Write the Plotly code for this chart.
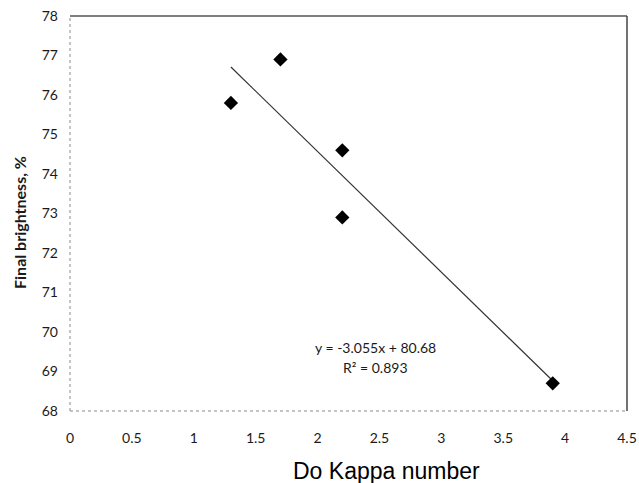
import plotly.graph_objects as go

# Measured data: D0 kappa number vs. final brightness
kappa = [1.3, 1.7, 2.2, 2.2, 3.9]
brightness = [75.8, 76.9, 74.6, 72.9, 68.7]

# Linear fit reported for the data
slope = -3.055
intercept = 80.68
r_squared = 0.893
fit_x = [min(kappa), max(kappa)]
fit_y = [slope * x + intercept for x in fit_x]

x_ticks = [0, 0.5, 1, 1.5, 2, 2.5, 3, 3.5, 4, 4.5]
y_ticks = [68, 69, 70, 71, 72, 73, 74, 75, 76, 77, 78]

W, H = 639, 483
L, R, T, B = 70, 12, 16, 72
px_left, px_right, px_top, px_bottom = L, W - R, T, H - B

fig = go.Figure()
fig.add_trace(go.Scatter(
    x=fit_x, y=fit_y, mode="lines",
    line=dict(color="#333333", width=1.2), hoverinfo="skip",
))
fig.add_trace(go.Scatter(
    x=kappa, y=brightness, mode="markers",
    marker=dict(symbol="diamond", size=11, color="black"),
))

tick_font = dict(family="Lato, sans-serif", size=14, color="#1a1a1a")

fig.update_layout(
    width=W, height=H,
    margin=dict(l=L, r=R, t=T, b=B, autoexpand=False),
    paper_bgcolor="white", plot_bgcolor="white",
    showlegend=False,
    xaxis=dict(
        range=[0, 4.5], tickvals=x_ticks,
        ticktext=[f"{v:g}" for v in x_ticks],
        showgrid=False, zeroline=False, showline=False, automargin=False,
        ticks="", ticklabelstandoff=17, tickfont=tick_font,
    ),
    yaxis=dict(
        range=[68, 78], tickvals=y_ticks,
        showgrid=False, zeroline=False, showline=False, automargin=False,
        ticks="", ticklabelstandoff=11, tickfont=tick_font,
    ),
)

# Plot frame: light dotted left/bottom edges, darker top/right edges
fig.add_shape(type="line", xref="paper", yref="paper", x0=0, y0=0, x1=0, y1=1,
              line=dict(color="#8a8a8a", width=1, dash="dot"))
fig.add_shape(type="line", xref="paper", yref="paper", x0=0, y0=0, x1=1, y1=0,
              line=dict(color="#8a8a8a", width=1, dash="dot"))
fig.add_shape(type="line", xref="paper", yref="paper", x0=0, y0=1, x1=1, y1=1,
              line=dict(color="#555555", width=1.5))
fig.add_shape(type="line", xref="paper", yref="paper", x0=1, y0=0, x1=1, y1=1,
              line=dict(color="#444444", width=1.5))

# Equation label (two lines)
eq_font = dict(family="Lato, sans-serif", size=14, color="#1a1a1a")
fig.add_annotation(
    x=2.47, y=69.62, xref="x", yref="y", showarrow=False,
    text=f"y = {slope:.3f}x + {intercept:.2f}", font=eq_font,
)
fig.add_annotation(
    x=2.47, y=69.09, xref="x", yref="y", showarrow=False,
    text=f"R² = {r_squared:.3f}", font=eq_font,
)

def paper_x(px):
    return (px - px_left) / (px_right - px_left)

def paper_y(py):
    return (px_bottom - py) / (px_bottom - px_top)

# Axis titles
fig.add_annotation(
    x=paper_x(386), y=paper_y(471), xref="paper", yref="paper", showarrow=False,
    text="Do Kappa number", xanchor="center", yanchor="middle",
    font=dict(family="Liberation Sans, Arial, sans-serif", size=23, color="black"),
)
fig.add_annotation(
    x=paper_x(19), y=paper_y(223), xref="paper", yref="paper",
    showarrow=False, textangle=-90,
    text="<b>Final brightness, %</b>",
    font=dict(family="Lato, sans-serif", size=16, color="#1a1a1a"),
    xanchor="center", yanchor="middle",
)

fig.write_html(
    "out.html",
    post_script="document.body.style.margin='0';"
                "document.body.style.overflow='hidden';",
)
